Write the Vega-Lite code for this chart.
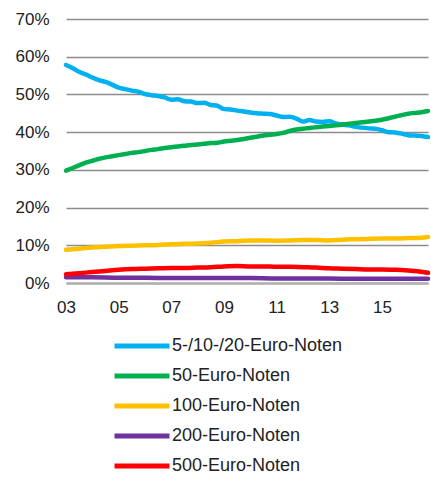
{
  "$schema": "https://vega.github.io/schema/vega-lite/v6.json",
  "width": 362,
  "height": 264,
  "autosize": {"type": "none"},
  "padding": {"left": 66, "top": 19, "right": 3, "bottom": 195},
  "config": {
    "view": {"stroke": null},
    "font": "Liberation Sans",
    "axis": {"labelFont": "Liberation Sans", "labelFontSize": 17, "labelColor": "#222222", "ticks": false, "title": null}
  },
  "data": {"values": [
    {"t":2003.0,"s":"5-/10-/20-Euro-Noten","v":57.8},{"t":2003.25,"s":"5-/10-/20-Euro-Noten","v":57.0},{"t":2003.5,"s":"5-/10-/20-Euro-Noten","v":56.0},{"t":2003.75,"s":"5-/10-/20-Euro-Noten","v":55.3},
    {"t":2004.0,"s":"5-/10-/20-Euro-Noten","v":54.5},{"t":2004.25,"s":"5-/10-/20-Euro-Noten","v":53.8},{"t":2004.5,"s":"5-/10-/20-Euro-Noten","v":53.3},{"t":2004.75,"s":"5-/10-/20-Euro-Noten","v":52.6},
    {"t":2005.0,"s":"5-/10-/20-Euro-Noten","v":51.8},{"t":2005.25,"s":"5-/10-/20-Euro-Noten","v":51.4},{"t":2005.5,"s":"5-/10-/20-Euro-Noten","v":51.0},{"t":2005.75,"s":"5-/10-/20-Euro-Noten","v":50.7},
    {"t":2006.0,"s":"5-/10-/20-Euro-Noten","v":50.1},{"t":2006.25,"s":"5-/10-/20-Euro-Noten","v":49.8},{"t":2006.5,"s":"5-/10-/20-Euro-Noten","v":49.6},{"t":2006.75,"s":"5-/10-/20-Euro-Noten","v":49.2},
    {"t":2007.0,"s":"5-/10-/20-Euro-Noten","v":48.6},{"t":2007.25,"s":"5-/10-/20-Euro-Noten","v":48.7},{"t":2007.5,"s":"5-/10-/20-Euro-Noten","v":48.2},{"t":2007.75,"s":"5-/10-/20-Euro-Noten","v":48.1},
    {"t":2008.0,"s":"5-/10-/20-Euro-Noten","v":47.7},{"t":2008.25,"s":"5-/10-/20-Euro-Noten","v":47.8},{"t":2008.5,"s":"5-/10-/20-Euro-Noten","v":47.2},{"t":2008.75,"s":"5-/10-/20-Euro-Noten","v":47.0},
    {"t":2009.0,"s":"5-/10-/20-Euro-Noten","v":46.1},{"t":2009.25,"s":"5-/10-/20-Euro-Noten","v":46.0},{"t":2009.5,"s":"5-/10-/20-Euro-Noten","v":45.7},{"t":2009.75,"s":"5-/10-/20-Euro-Noten","v":45.5},
    {"t":2010.0,"s":"5-/10-/20-Euro-Noten","v":45.2},{"t":2010.25,"s":"5-/10-/20-Euro-Noten","v":45.0},{"t":2010.5,"s":"5-/10-/20-Euro-Noten","v":44.9},{"t":2010.75,"s":"5-/10-/20-Euro-Noten","v":44.8},
    {"t":2011.0,"s":"5-/10-/20-Euro-Noten","v":44.4},{"t":2011.25,"s":"5-/10-/20-Euro-Noten","v":44.0},{"t":2011.5,"s":"5-/10-/20-Euro-Noten","v":44.1},{"t":2011.75,"s":"5-/10-/20-Euro-Noten","v":43.6},
    {"t":2012.0,"s":"5-/10-/20-Euro-Noten","v":42.8},{"t":2012.25,"s":"5-/10-/20-Euro-Noten","v":43.2},{"t":2012.5,"s":"5-/10-/20-Euro-Noten","v":42.8},{"t":2012.75,"s":"5-/10-/20-Euro-Noten","v":42.7},
    {"t":2013.0,"s":"5-/10-/20-Euro-Noten","v":42.9},{"t":2013.25,"s":"5-/10-/20-Euro-Noten","v":42.3},{"t":2013.5,"s":"5-/10-/20-Euro-Noten","v":42.0},{"t":2013.75,"s":"5-/10-/20-Euro-Noten","v":41.8},
    {"t":2014.0,"s":"5-/10-/20-Euro-Noten","v":41.4},{"t":2014.25,"s":"5-/10-/20-Euro-Noten","v":41.2},{"t":2014.5,"s":"5-/10-/20-Euro-Noten","v":41.0},{"t":2014.75,"s":"5-/10-/20-Euro-Noten","v":40.9},
    {"t":2015.0,"s":"5-/10-/20-Euro-Noten","v":40.5},{"t":2015.25,"s":"5-/10-/20-Euro-Noten","v":40.0},{"t":2015.5,"s":"5-/10-/20-Euro-Noten","v":39.9},{"t":2015.75,"s":"5-/10-/20-Euro-Noten","v":39.6},
    {"t":2016.0,"s":"5-/10-/20-Euro-Noten","v":39.2},{"t":2016.25,"s":"5-/10-/20-Euro-Noten","v":39.1},{"t":2016.5,"s":"5-/10-/20-Euro-Noten","v":39.0},{"t":2016.75,"s":"5-/10-/20-Euro-Noten","v":38.7},

    {"t":2003.0,"s":"50-Euro-Noten","v":29.8},{"t":2003.25,"s":"50-Euro-Noten","v":30.5},{"t":2003.5,"s":"50-Euro-Noten","v":31.2},{"t":2003.75,"s":"50-Euro-Noten","v":31.9},
    {"t":2004.0,"s":"50-Euro-Noten","v":32.4},{"t":2004.25,"s":"50-Euro-Noten","v":32.9},{"t":2004.5,"s":"50-Euro-Noten","v":33.3},{"t":2004.75,"s":"50-Euro-Noten","v":33.6},
    {"t":2005.0,"s":"50-Euro-Noten","v":33.9},{"t":2005.25,"s":"50-Euro-Noten","v":34.2},{"t":2005.5,"s":"50-Euro-Noten","v":34.5},{"t":2005.75,"s":"50-Euro-Noten","v":34.7},
    {"t":2006.0,"s":"50-Euro-Noten","v":35.0},{"t":2006.25,"s":"50-Euro-Noten","v":35.3},{"t":2006.5,"s":"50-Euro-Noten","v":35.5},{"t":2006.75,"s":"50-Euro-Noten","v":35.8},
    {"t":2007.0,"s":"50-Euro-Noten","v":36.0},{"t":2007.25,"s":"50-Euro-Noten","v":36.2},{"t":2007.5,"s":"50-Euro-Noten","v":36.4},{"t":2007.75,"s":"50-Euro-Noten","v":36.6},
    {"t":2008.0,"s":"50-Euro-Noten","v":36.7},{"t":2008.25,"s":"50-Euro-Noten","v":36.9},{"t":2008.5,"s":"50-Euro-Noten","v":37.1},{"t":2008.75,"s":"50-Euro-Noten","v":37.2},
    {"t":2009.0,"s":"50-Euro-Noten","v":37.5},{"t":2009.25,"s":"50-Euro-Noten","v":37.7},{"t":2009.5,"s":"50-Euro-Noten","v":37.9},{"t":2009.75,"s":"50-Euro-Noten","v":38.2},
    {"t":2010.0,"s":"50-Euro-Noten","v":38.5},{"t":2010.25,"s":"50-Euro-Noten","v":38.8},{"t":2010.5,"s":"50-Euro-Noten","v":39.1},{"t":2010.75,"s":"50-Euro-Noten","v":39.3},
    {"t":2011.0,"s":"50-Euro-Noten","v":39.5},{"t":2011.25,"s":"50-Euro-Noten","v":39.8},{"t":2011.5,"s":"50-Euro-Noten","v":40.3},{"t":2011.75,"s":"50-Euro-Noten","v":40.7},
    {"t":2012.0,"s":"50-Euro-Noten","v":40.9},{"t":2012.25,"s":"50-Euro-Noten","v":41.1},{"t":2012.5,"s":"50-Euro-Noten","v":41.3},{"t":2012.75,"s":"50-Euro-Noten","v":41.5},
    {"t":2013.0,"s":"50-Euro-Noten","v":41.6},{"t":2013.25,"s":"50-Euro-Noten","v":41.8},{"t":2013.5,"s":"50-Euro-Noten","v":42.0},{"t":2013.75,"s":"50-Euro-Noten","v":42.2},
    {"t":2014.0,"s":"50-Euro-Noten","v":42.4},{"t":2014.25,"s":"50-Euro-Noten","v":42.6},{"t":2014.5,"s":"50-Euro-Noten","v":42.8},{"t":2014.75,"s":"50-Euro-Noten","v":43.0},
    {"t":2015.0,"s":"50-Euro-Noten","v":43.3},{"t":2015.25,"s":"50-Euro-Noten","v":43.7},{"t":2015.5,"s":"50-Euro-Noten","v":44.1},{"t":2015.75,"s":"50-Euro-Noten","v":44.5},
    {"t":2016.0,"s":"50-Euro-Noten","v":44.9},{"t":2016.25,"s":"50-Euro-Noten","v":45.1},{"t":2016.5,"s":"50-Euro-Noten","v":45.3},{"t":2016.75,"s":"50-Euro-Noten","v":45.6},

    {"t":2003.0,"s":"100-Euro-Noten","v":8.8},{"t":2003.5,"s":"100-Euro-Noten","v":9.1},{"t":2004.0,"s":"100-Euro-Noten","v":9.4},{"t":2004.5,"s":"100-Euro-Noten","v":9.6},
    {"t":2005.0,"s":"100-Euro-Noten","v":9.8},{"t":2005.5,"s":"100-Euro-Noten","v":9.9},{"t":2006.0,"s":"100-Euro-Noten","v":10.0},{"t":2006.5,"s":"100-Euro-Noten","v":10.1},
    {"t":2007.0,"s":"100-Euro-Noten","v":10.3},{"t":2007.5,"s":"100-Euro-Noten","v":10.4},{"t":2008.0,"s":"100-Euro-Noten","v":10.5},{"t":2008.5,"s":"100-Euro-Noten","v":10.7},
    {"t":2009.0,"s":"100-Euro-Noten","v":11.0},{"t":2009.5,"s":"100-Euro-Noten","v":11.1},{"t":2010.0,"s":"100-Euro-Noten","v":11.3},{"t":2010.5,"s":"100-Euro-Noten","v":11.3},
    {"t":2011.0,"s":"100-Euro-Noten","v":11.2},{"t":2011.5,"s":"100-Euro-Noten","v":11.3},{"t":2012.0,"s":"100-Euro-Noten","v":11.4},{"t":2012.5,"s":"100-Euro-Noten","v":11.4},
    {"t":2013.0,"s":"100-Euro-Noten","v":11.3},{"t":2013.5,"s":"100-Euro-Noten","v":11.5},{"t":2014.0,"s":"100-Euro-Noten","v":11.6},{"t":2014.5,"s":"100-Euro-Noten","v":11.7},
    {"t":2015.0,"s":"100-Euro-Noten","v":11.8},{"t":2015.5,"s":"100-Euro-Noten","v":11.8},{"t":2016.0,"s":"100-Euro-Noten","v":11.9},{"t":2016.5,"s":"100-Euro-Noten","v":12.0},{"t":2016.75,"s":"100-Euro-Noten","v":12.2},

    {"t":2003.0,"s":"200-Euro-Noten","v":1.5},{"t":2004.0,"s":"200-Euro-Noten","v":1.5},{"t":2005.0,"s":"200-Euro-Noten","v":1.4},{"t":2006.0,"s":"200-Euro-Noten","v":1.4},
    {"t":2007.0,"s":"200-Euro-Noten","v":1.3},{"t":2008.0,"s":"200-Euro-Noten","v":1.3},{"t":2009.0,"s":"200-Euro-Noten","v":1.3},{"t":2010.0,"s":"200-Euro-Noten","v":1.3},
    {"t":2011.0,"s":"200-Euro-Noten","v":1.2},{"t":2012.0,"s":"200-Euro-Noten","v":1.2},{"t":2013.0,"s":"200-Euro-Noten","v":1.2},{"t":2014.0,"s":"200-Euro-Noten","v":1.1},
    {"t":2015.0,"s":"200-Euro-Noten","v":1.1},{"t":2016.0,"s":"200-Euro-Noten","v":1.1},{"t":2016.75,"s":"200-Euro-Noten","v":1.1},

    {"t":2003.0,"s":"500-Euro-Noten","v":2.3},{"t":2003.5,"s":"500-Euro-Noten","v":2.6},{"t":2004.0,"s":"500-Euro-Noten","v":2.9},{"t":2004.5,"s":"500-Euro-Noten","v":3.2},
    {"t":2005.0,"s":"500-Euro-Noten","v":3.5},{"t":2005.5,"s":"500-Euro-Noten","v":3.7},{"t":2006.0,"s":"500-Euro-Noten","v":3.8},{"t":2006.5,"s":"500-Euro-Noten","v":3.9},
    {"t":2007.0,"s":"500-Euro-Noten","v":4.0},{"t":2007.5,"s":"500-Euro-Noten","v":4.0},{"t":2008.0,"s":"500-Euro-Noten","v":4.1},{"t":2008.5,"s":"500-Euro-Noten","v":4.2},
    {"t":2009.0,"s":"500-Euro-Noten","v":4.4},{"t":2009.5,"s":"500-Euro-Noten","v":4.5},{"t":2010.0,"s":"500-Euro-Noten","v":4.4},{"t":2010.5,"s":"500-Euro-Noten","v":4.4},
    {"t":2011.0,"s":"500-Euro-Noten","v":4.3},{"t":2011.5,"s":"500-Euro-Noten","v":4.3},{"t":2012.0,"s":"500-Euro-Noten","v":4.2},{"t":2012.5,"s":"500-Euro-Noten","v":4.1},
    {"t":2013.0,"s":"500-Euro-Noten","v":3.9},{"t":2013.5,"s":"500-Euro-Noten","v":3.8},{"t":2014.0,"s":"500-Euro-Noten","v":3.7},{"t":2014.5,"s":"500-Euro-Noten","v":3.6},
    {"t":2015.0,"s":"500-Euro-Noten","v":3.6},{"t":2015.5,"s":"500-Euro-Noten","v":3.5},{"t":2016.0,"s":"500-Euro-Noten","v":3.3},{"t":2016.5,"s":"500-Euro-Noten","v":3.0},{"t":2016.75,"s":"500-Euro-Noten","v":2.7}
  ]},
  "mark": {"type": "line", "strokeWidth": 4.5, "strokeCap": "round", "strokeJoin": "round", "interpolate": "monotone"},
  "encoding": {
    "x": {
      "field": "t", "type": "quantitative",
      "scale": {"domain": [2003, 2016.75], "nice": false, "zero": false},
      "axis": {
        "values": [2003, 2005, 2007, 2009, 2011, 2013, 2015],
        "labelExpr": "slice(toString(datum.value), 2)",
        "grid": false, "domain": true, "domainColor": "#b0b0b0", "domainWidth": 2.5,
        "labelPadding": 16, "labelFlush": false
      }
    },
    "y": {
      "field": "v", "type": "quantitative",
      "scale": {"domain": [0, 70], "nice": false},
      "axis": {
        "values": [0, 10, 20, 30, 40, 50, 60, 70],
        "labelExpr": "datum.value + '%'",
        "grid": true, "gridColor": "#8c8c8c", "gridWidth": 1.3,
        "domain": false, "labelPadding": 17
      }
    },
    "color": {
      "field": "s", "type": "nominal",
      "scale": {
        "domain": ["5-/10-/20-Euro-Noten", "50-Euro-Noten", "100-Euro-Noten", "200-Euro-Noten", "500-Euro-Noten"],
        "range": ["#00B0F0", "#00B050", "#FFC000", "#7030A0", "#FF0000"]
      },
      "legend": {
        "title": null, "orient": "none", "legendX": 64, "legendY": 315, "direction": "vertical",
        "symbolType": "M-3,0H3", "symbolSize": 336, "symbolStrokeWidth": 5,
        "labelFontSize": 18, "labelColor": "#222222", "labelFont": "Liberation Sans",
        "labelOffset": 18, "labelLimit": 400, "rowPadding": 8
      }
    }
  }
}
